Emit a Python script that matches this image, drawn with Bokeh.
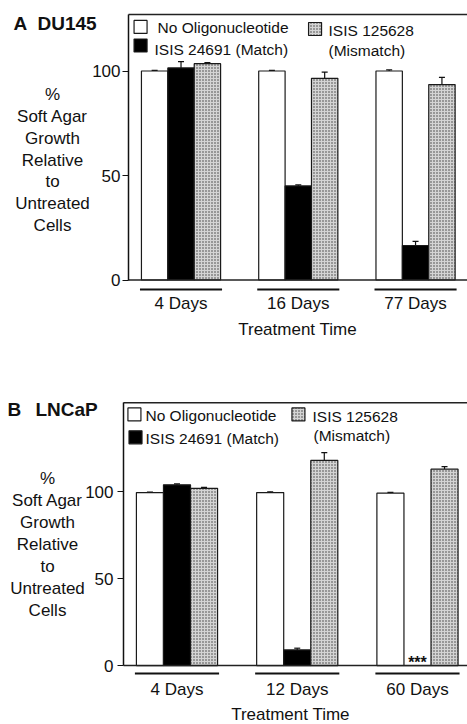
from bokeh.plotting import figure
from bokeh.models import Label, Whisker, ColumnDataSource, FixedTicker, Range1d, LinearAxis
from bokeh.core.properties import value
from bokeh.layouts import column
from bokeh.embed import file_html
from bokeh.resources import INLINE

FONT = "Liberation Sans"

# ---------------- data ----------------
series_names = ["No Oligonucleotide", "ISIS 24691 (Match)", "ISIS 125628"]
mismatch_note = "(Mismatch)"
ylabel_lines = ["%", "Soft Agar", "Growth", "Relative", "to", "Untreated", "Cells"]
y_ticks = [0, 50, 100]
x_title = "Treatment Time"

# Panel A: DU145
days_A = ["4 Days", "16 Days", "77 Days"]
no_oligo_A = [100, 100, 100]
no_oligo_err_A = [0.3, 0.3, 0.5]
match_A = [101.5, 45, 16.5]
match_err_A = [3.0, 0.5, 2.0]
mismatch_A = [103.5, 96.5, 93.5]
mismatch_err_A = [0.5, 3.0, 3.5]

# Panel B: LNCaP
days_B = ["4 Days", "12 Days", "60 Days"]
no_oligo_B = [99.5, 99.5, 99.2]
no_oligo_err_B = [0.3, 0.5, 0.5]
match_B = [104, 9, 0]
match_err_B = [0.5, 1.0, 0.0]
mismatch_B = [102, 118, 113]
mismatch_err_B = [0.5, 4.5, 1.5]
zero_mark_B = "***"

# ---------------- styling ----------------
BAR_W = 0.225
INK = "#111111"
styles = [
    dict(fill_color="white"),
    dict(fill_color="black"),
    dict(fill_color="#d4d4d4", hatch_pattern="dot", hatch_color="#3a3a3a",
         hatch_scale=3, hatch_weight=1.0),
]


def make_panel(letter, cell, days, values, errors, height, border_top,
               xr, yr, axis_x, axis_y, top_line, underline_y, title_pos, ylab_x, ylab_y0,
               ylab_dy, legend_pos, tick_pad, xlab_pad, xtitle_pos):
    p = figure(width=467, height=height, output_backend="svg", toolbar_location=None,
               x_range=Range1d(*xr), y_range=Range1d(*yr),
               y_axis_location=None, x_axis_location=None,
               min_border_left=0, min_border_right=0,
               min_border_top=border_top, min_border_bottom=0)
    p.outline_line_color = None
    p.xgrid.visible = False
    p.ygrid.visible = False
    p.background_fill_color = "white"
    p.border_fill_color = "white"

    offsets = [-BAR_W, 0, BAR_W]
    for vals, errs, off, st in zip(values, errors, offsets, styles):
        xs = [i + off for i in range(len(vals))]
        p.vbar(x=xs, top=vals, bottom=0, width=BAR_W, line_color="#1a1a1a",
               line_width=1.2, **st)
        keep = [k for k in range(len(vals)) if errs[k] > 0]
        src = ColumnDataSource(dict(x=[xs[k] for k in keep],
                                    lower=[vals[k] for k in keep],
                                    upper=[vals[k] + errs[k] for k in keep]))
        w = Whisker(base="x", lower="lower", upper="upper", source=src,
                    line_color=INK, line_width=1.2, lower_head=None)
        w.upper_head.size = 6
        w.upper_head.line_color = INK
        w.upper_head.line_width = 1.2
        p.add_layout(w)

    # baseline (y = 0) and top border, from the y axis to the right edge
    p.segment(x0=[axis_x, axis_x], x1=[xr[1], xr[1]], y0=[0, top_line], y1=[0, top_line],
              line_color="#222222", line_width=1.5)

    # group underlines
    n = len(days)
    p.segment(x0=[i - 0.35 for i in range(n)], x1=[i + 0.35 for i in range(n)],
              y0=[underline_y] * n, y1=[underline_y] * n,
              line_color=INK, line_width=2)

    # y axis at a fixed location inside the canvas
    yax = LinearAxis(fixed_location=axis_x, ticker=FixedTicker(ticks=y_ticks),
                     bounds=(0, top_line))
    yax.axis_line_color = INK
    yax.axis_line_width = 1.5
    yax.major_tick_line_color = INK
    yax.major_tick_out = 6
    yax.major_tick_in = 0
    yax.minor_tick_line_color = None
    yax.major_label_text_font = FONT
    yax.major_label_text_font_size = "17px"
    yax.major_label_text_color = INK
    yax.major_label_standoff = tick_pad
    p.add_layout(yax, "left")

    # x axis (category labels) at a fixed location below the baseline
    xax = LinearAxis(fixed_location=axis_y, ticker=FixedTicker(ticks=list(range(n))))
    xax.major_label_overrides = {i: d for i, d in enumerate(days)}
    xax.axis_line_color = None
    xax.major_tick_line_color = None
    xax.minor_tick_line_color = None
    xax.major_tick_out = 0
    xax.major_tick_in = 0
    xax.major_label_standoff = xlab_pad
    xax.major_label_text_font = FONT
    xax.major_label_text_font_size = "17px"
    xax.major_label_text_color = INK
    p.add_layout(xax, "below")

    # x-axis title
    p.text(x=[xtitle_pos[0]], y=[xtitle_pos[1]], text=[x_title], text_font=value(FONT),
           text_font_size="17px", text_align="center", text_baseline="middle",
           text_color=INK)

    # panel title
    lx_, cx_, ty = title_pos
    p.text(x=[lx_, cx_], y=[ty, ty], text=[letter, cell], text_font=value(FONT),
           text_font_size="19px", text_font_style="bold", text_baseline="middle",
           text_color=INK)

    # y-axis title (centred lines)
    p.text(x=[ylab_x] * len(ylabel_lines),
           y=[ylab_y0 - k * ylab_dy for k in range(len(ylabel_lines))],
           text=ylabel_lines, text_font=value(FONT), text_font_size="17px",
           text_align="center", text_baseline="middle", text_color=INK)

    # legend (swatches + text)
    for (sx, sy, lx, ly), name, st in zip(legend_pos[:3], series_names, styles):
        p.scatter(x=[sx], y=[sy], marker="square", size=13, line_color="#1a1a1a",
                  line_width=1.2, **st)
        p.text(x=[lx], y=[ly], text=[name], text_font=value(FONT),
               text_font_size="15.5px", text_baseline="middle", text_color=INK)
    mx, my = legend_pos[3]
    p.text(x=[mx], y=[my], text=[mismatch_note], text_font=value(FONT),
           text_font_size="15.5px", text_baseline="middle", text_color=INK)
    return p


pA = make_panel(
    "A", "DU145", days_A,
    [no_oligo_A, match_A, mismatch_A],
    [no_oligo_err_A, match_err_A, mismatch_err_A],
    height=370, border_top=12,
    xr=(-1.5394, 2.443), yr=(-43.3, 128.0), axis_x=-0.4478, axis_y=-6.0, top_line=127.0,
    underline_y=-4.6, title_pos=(-1.4286, -1.2239, 122.7),
    ylab_x=-1.096, ylab_y0=88.75, ylab_dy=10.45,
    legend_pos=[(-0.345, 121.1, -0.2, 120.8),
                (-0.345, 112.2, -0.226, 110.5),
                (1.143, 120.1, 1.258, 119.6),
                (1.258, 109.8)],
    tick_pad=2, xlab_pad=1, xtitle_pos=(0.994, -23.9))

pB = make_panel(
    "B", "LNCaP", days_B,
    [no_oligo_B, match_B, mismatch_B],
    [no_oligo_err_B, match_err_B, mismatch_err_B],
    height=354, border_top=30,
    xr=(-1.4678, 2.416), yr=(-33.9, 152.5), axis_x=-0.4449, axis_y=-6.3, top_line=151.2,
    underline_y=-4.6, title_pos=(-1.4096, -1.1767, 147.4),
    ylab_x=-1.077, ylab_y0=107.5, ylab_dy=12.64,
    legend_pos=[(-0.354, 144.5, -0.262, 143.7),
                (-0.345, 131.3, -0.262, 130.5),
                (1.01, 144.5, 1.127, 143.4),
                (1.135, 132.2)],
    tick_pad=4, xlab_pad=3, xtitle_pos=(0.944, -28.2))

pB.add_layout(Label(x=2, y=-2.9, text=zero_mark_B, text_font=FONT, text_font_size="16px",
                    text_font_style="bold", text_align="center", text_color=INK))

layout = column(pA, pB)
open("out.html", "w").write(file_html(layout, INLINE))
